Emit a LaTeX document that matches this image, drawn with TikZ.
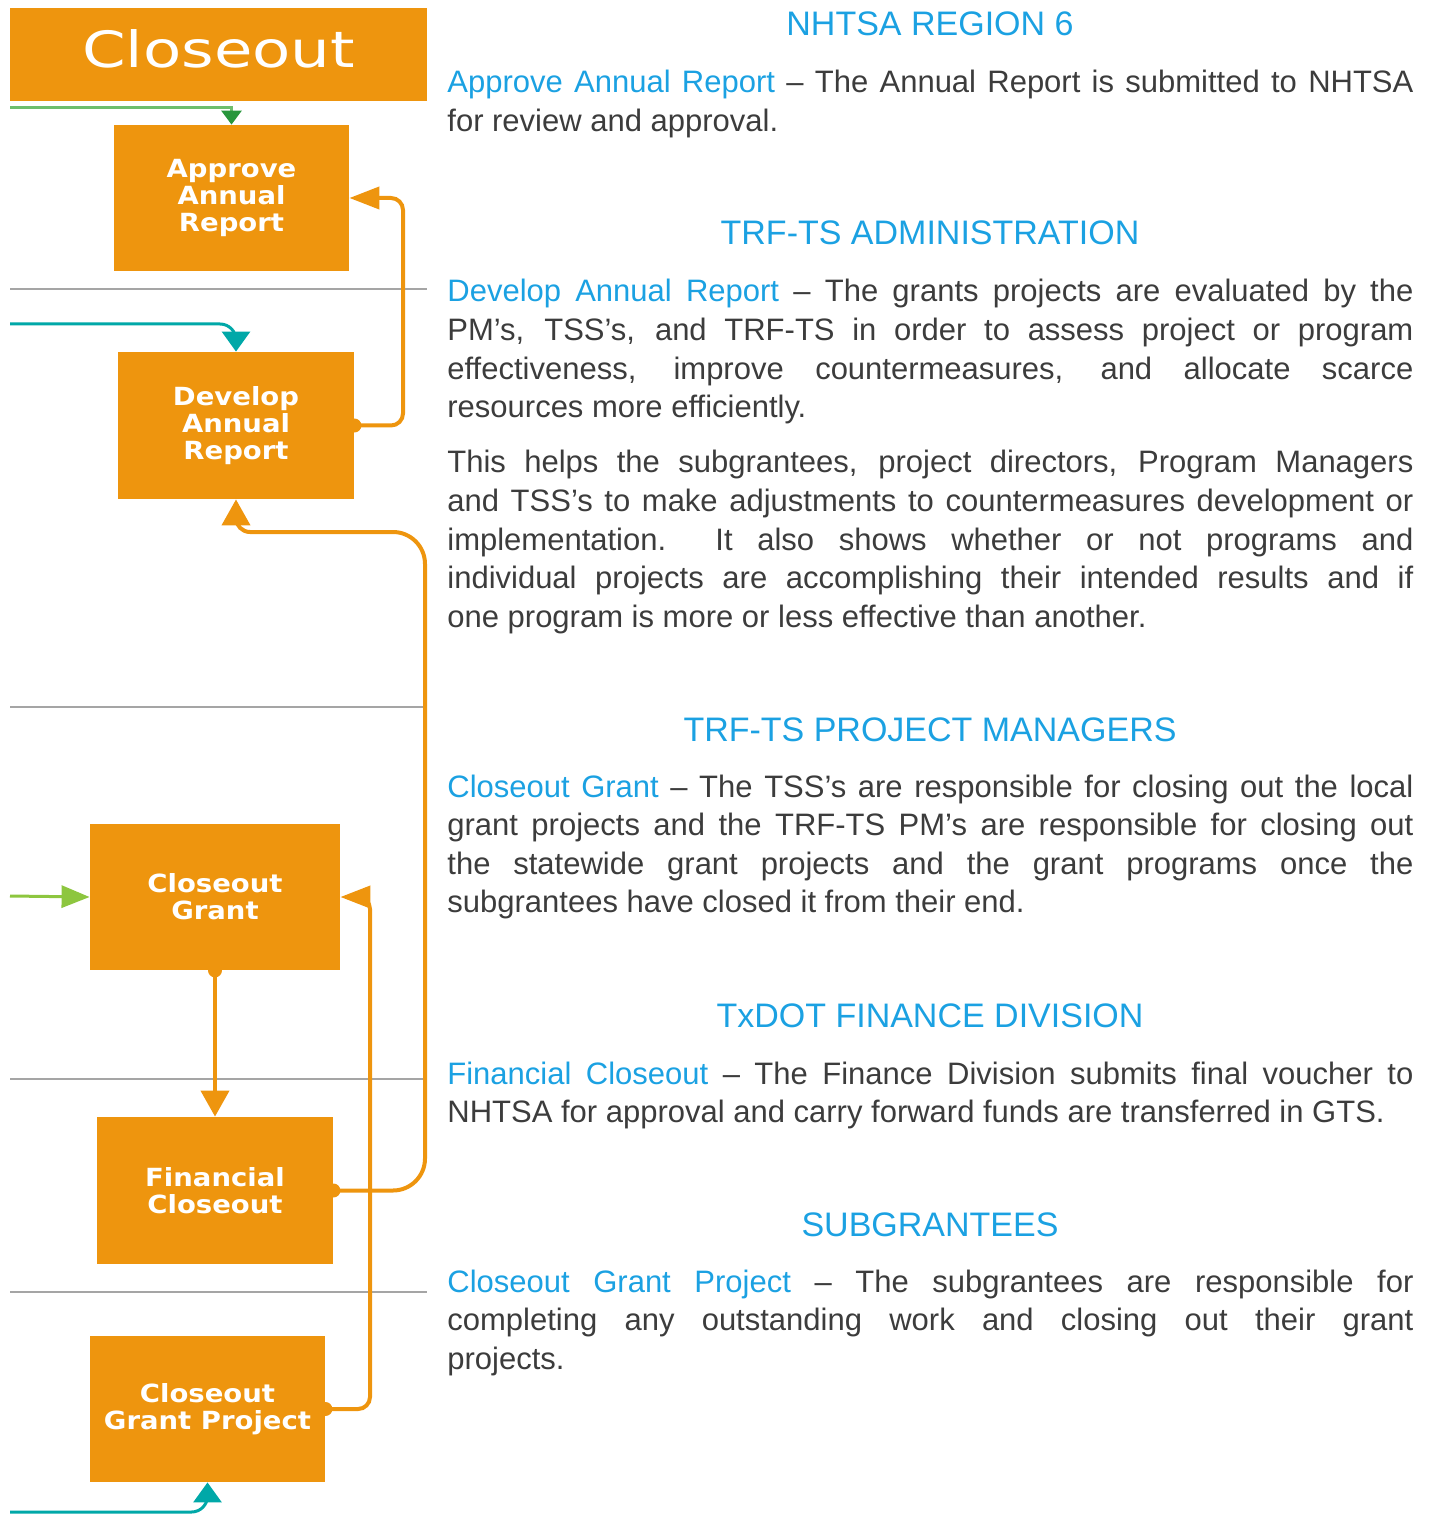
\documentclass[tikz,border=0pt]{standalone}
\usepackage{fontspec}
\setmainfont{Liberation Sans}
\newfontfamily\boxfont[FakeStretch=1.1]{DejaVu Sans}
\newfontfamily\titlefont[FakeStretch=1.25]{DejaVu Sans}
\usetikzlibrary{arrows.meta,positioning}
\definecolor{boxorange}{RGB}{238,149,14}
\definecolor{headblue}{RGB}{27,161,226}
\definecolor{bodygray}{RGB}{60,60,60}
\definecolor{tealline}{RGB}{0,168,168}
\definecolor{greenline}{RGB}{110,190,110}
\definecolor{greenhead}{RGB}{40,150,60}
\definecolor{limeline}{RGB}{141,198,63}
\definecolor{sepgray}{RGB}{165,165,165}
\newcommand{\hd}[1]{\textcolor{headblue}{#1}}
\hbadness=10000

\begin{document}
\begin{tikzpicture}[x=0.5pt,y=-0.5pt,
  stepbox/.style={rectangle,fill=boxorange,text=white,align=center,inner sep=0pt,font=\boxfont\bfseries\fontsize{12.5}{13.5}\selectfont},
  heading/.style={anchor=base,text=headblue,font=\fontsize{17}{20}\selectfont},
  para/.style={anchor=base west,inner sep=0pt,text width=483pt,align=justify,text=bodygray,font=\fontsize{15.5}{19.3}\selectfont},
  sepline/.style={draw=sepgray,line width=0.8pt},
  flow/.style={draw=boxorange,line width=2pt,rounded corners=12pt,-{Triangle[length=13pt,width=14pt]}},
  sideflow/.style={draw=boxorange,line width=2pt,rounded corners=6pt,-{Triangle[length=15pt,width=11pt]}}]
\useasboundingbox (0,0) rectangle (1434,1534);

% lanes
\draw[sepline] (10,289) -- (427,289);
\draw[sepline] (10,707) -- (427,707);
\draw[sepline] (10,1079) -- (427,1079);
\draw[sepline] (10,1292) -- (427,1292);

% boxes
\node[stepbox,minimum width=208.5pt,minimum height=46.5pt,text depth=6pt,font=\titlefont\fontsize{25}{25}\selectfont] (closeout) at (218.5,54.5) {Closeout};
\node[stepbox,minimum width=117.5pt,minimum height=73pt] (approve) at (231.5,198) {Approve\\Annual\\Report};
\node[stepbox,minimum width=118pt,minimum height=73.5pt] (develop) at (236,425.5) {Develop\\Annual\\Report};
\node[stepbox,minimum width=125pt,minimum height=73pt] (grant) at (215,897) {Closeout\\Grant};
\node[stepbox,minimum width=118pt,minimum height=73.5pt] (financial) at (215,1190.5) {Financial\\Closeout};
\node[stepbox,minimum width=117.5pt,minimum height=73pt] (project) at (207.5,1409) {Closeout\\Grant Project};

% incoming lines
\coordinate (inapprove) at (10,108);
\coordinate (indevelop) at (10,324);
\coordinate (ingrant) at (10,896);
\coordinate (inproject) at (10,1512);
\draw[draw=greenline,line width=1.5pt,-{Triangle[length=7pt,width=10pt,color=greenhead]}] (inapprove) -- (inapprove -| approve.north) -- (approve.north);
\draw[draw=tealline,line width=1.5pt,rounded corners=8pt,-{Triangle[length=10pt,width=14pt]}] (indevelop) -- (indevelop -| develop.north) -- (develop.north);
\draw[draw=limeline,line width=1.5pt,-{Triangle[length=14pt,width=11pt]}] (ingrant) -- (grant.west);
\draw[draw=tealline,line width=1.5pt,rounded corners=8pt,-{Triangle[length=10pt,width=14pt]}] (inproject) -- (inproject -| project.south) -- (project.south);

% orange flows
\coordinate (railA) at (403,0);
\coordinate (railB) at (425,532);
\coordinate (railC) at (370,0);
\draw[sideflow] (develop.east) -- (develop.east -| railA) -- (approve.east -| railA) -- (approve.east);
\draw[flow,rounded corners=16pt] (financial.east) -- (financial.east -| railB) -- (railB) [rounded corners=7pt] -- (railB -| develop.south) -- (develop.south);
\draw[flow] (grant.south) -- (financial.north);
\draw[sideflow] (project.east) -- (project.east -| railC) -- (grant.east -| railC) -- (grant.east);
\foreach \p in {develop.east,financial.east,grant.south,project.east}
  \fill[boxorange] (\p) circle (3.5pt);

% text column
\node[heading] (nhtsa) at (930,36) {NHTSA REGION 6};
\node[para] (approvetext) at (447,93) {\hd{Approve Annual Report} – The Annual Report is submitted to NHTSA\linebreak for review and approval.};
\node[heading] (admin) at (930,245) {TRF-TS ADMINISTRATION};
\node[para] (developtext) at (447,302) {\hd{Develop Annual Report} – The grants projects are evaluated by the\linebreak PM’s, TSS’s, and TRF-TS in order to assess project or program\linebreak effectiveness, improve countermeasures, and allocate scarce\linebreak resources more efficiently.};
\node[para] (helpstext) at (447,473) {This helps the subgrantees, project directors, Program Managers\linebreak and TSS’s to make adjustments to countermeasures development or\linebreak implementation.\ \ It also shows whether or not programs and\linebreak individual projects are accomplishing their intended results and if\linebreak one program is more or less effective than another.};
\node[heading] (managers) at (930,741) {TRF-TS PROJECT MANAGERS};
\node[para] (granttext) at (447,797) {\hd{Closeout Grant} – The TSS’s are responsible for closing out the local\linebreak grant projects and the TRF-TS PM’s are responsible for closing out\linebreak the statewide grant projects and the grant programs once the\linebreak subgrantees have closed it from their end.};
\node[heading] (finance) at (930,1027) {TxDOT FINANCE DIVISION};
\node[para] (financetext) at (447,1084) {\hd{Financial Closeout} – The Finance Division submits final voucher to\linebreak NHTSA for approval and carry forward funds are transferred in GTS.};
\node[heading] (subgrantees) at (930,1236) {SUBGRANTEES};
\node[para] (projecttext) at (447,1292) {\hd{Closeout Grant Project} – The subgrantees are responsible for\linebreak completing any outstanding work and closing out their grant\linebreak projects.};
\end{tikzpicture}
\end{document}
